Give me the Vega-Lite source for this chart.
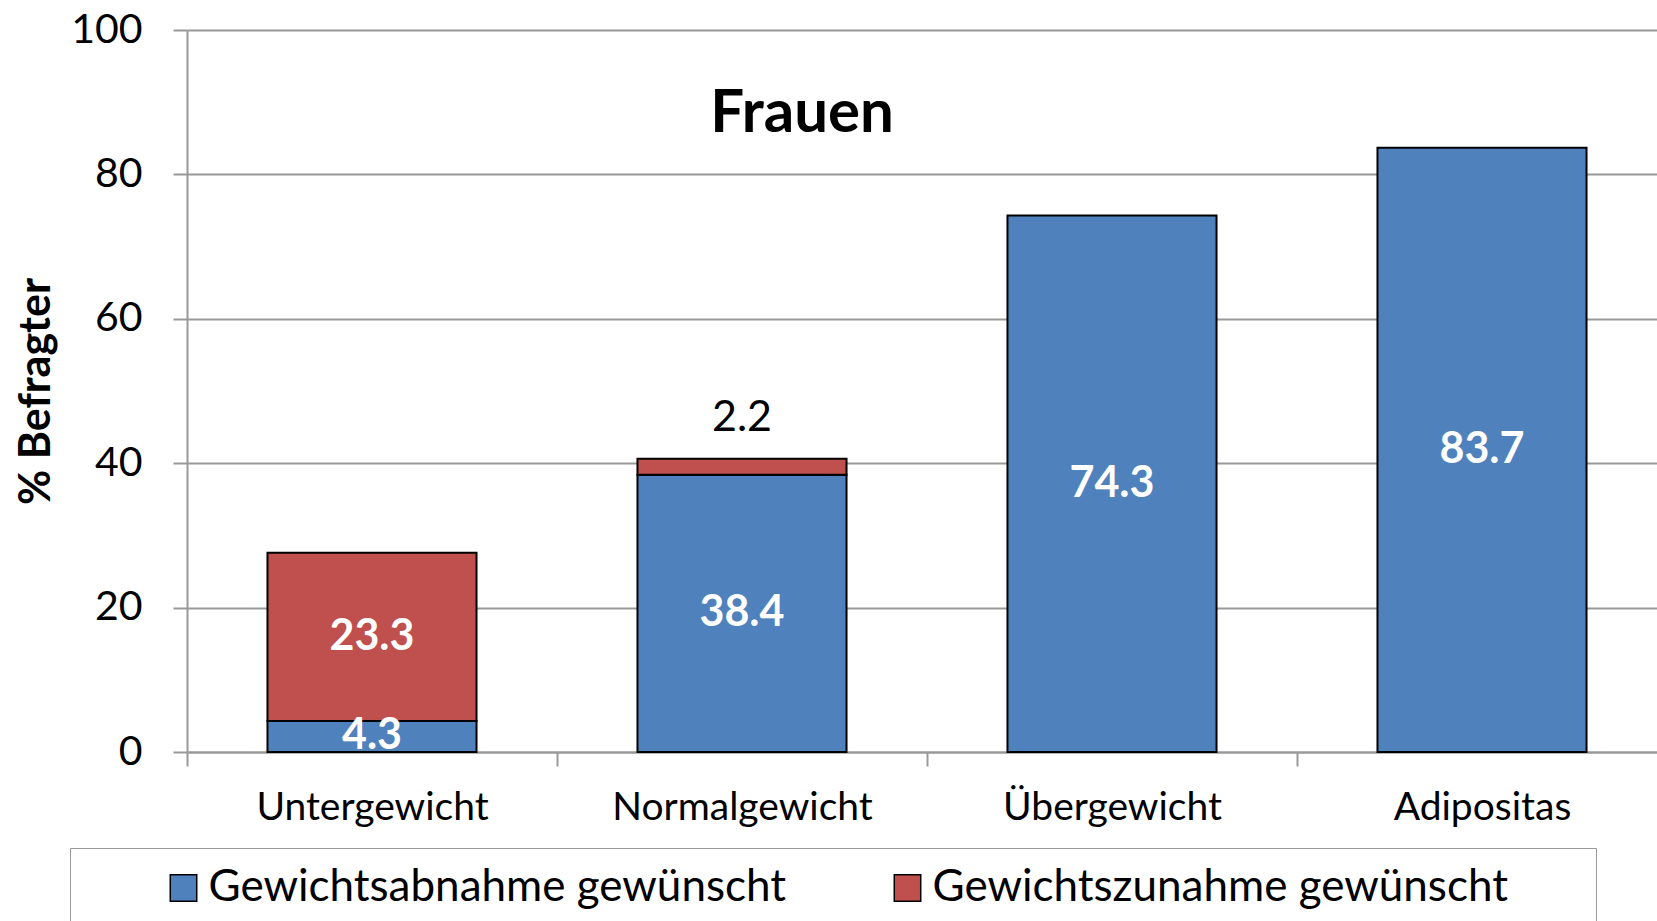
{
  "$schema": "https://vega.github.io/schema/vega-lite/v6.json",
  "width": 1470,
  "height": 722,
  "autosize": {"type": "none"},
  "padding": {"left": 187, "top": 30, "right": 0, "bottom": 169},
  "background": "white",
  "title": {
    "text": "Frauen",
    "font": "Lato",
    "fontSize": 60,
    "fontWeight": "bold",
    "color": "black",
    "anchor": "middle",
    "dx": -120,
    "offset": -136
  },
  "data": {
    "values": [
      {"cat": "Untergewicht", "series": "Gewichtsabnahme gewünscht", "order": 1, "value": 4.3},
      {"cat": "Untergewicht", "series": "Gewichtszunahme gewünscht", "order": 2, "value": 23.3},
      {"cat": "Normalgewicht", "series": "Gewichtsabnahme gewünscht", "order": 1, "value": 38.4},
      {"cat": "Normalgewicht", "series": "Gewichtszunahme gewünscht", "order": 2, "value": 2.2},
      {"cat": "Übergewicht", "series": "Gewichtsabnahme gewünscht", "order": 1, "value": 74.3},
      {"cat": "Adipositas", "series": "Gewichtsabnahme gewünscht", "order": 1, "value": 83.7}
    ]
  },
  "transform": [
    {"stack": "value", "groupby": ["cat"], "sort": [{"field": "order", "order": "ascending"}], "as": ["v0", "v1"]},
    {"calculate": "(datum.v0 + datum.v1) / 2", "as": "mid"}
  ],
  "encoding": {
    "x": {
      "field": "cat",
      "type": "nominal",
      "sort": ["Untergewicht", "Normalgewicht", "Übergewicht", "Adipositas"],
      "scale": {"range": [0, 1480], "paddingInner": 0, "paddingOuter": 0},
      "axis": {
        "title": null,
        "labelAngle": 0,
        "labelFont": "Lato",
        "labelFontSize": 39,
        "labelColor": "black",
        "labelPadding": 22,
        "labelLimit": 0,
        "tickBand": "extent",
        "tickSize": 14,
        "tickColor": "#999999",
        "tickWidth": 2,
        "domainColor": "#999999",
        "domainWidth": 2,
        "grid": false
      }
    }
  },
  "layer": [
    {
      "mark": {"type": "bar", "stroke": "black", "strokeWidth": 2, "width": {"band": 0.565}},
      "encoding": {
        "y": {
          "field": "v0",
          "type": "quantitative",
          "scale": {"domain": [0, 100], "nice": false},
          "axis": {
            "title": "% Befragter",
            "titleFont": "Lato",
            "titleFontSize": 43,
            "titleFontWeight": "bold",
            "titleColor": "black",
            "titlePadding": 12,
            "values": [0, 20, 40, 60, 80, 100],
            "labelFont": "Lato",
            "labelFontSize": 41,
            "labelColor": "black",
            "labelPadding": 31,
            "tickSize": 14,
            "tickColor": "#999999",
            "tickWidth": 2,
            "domainColor": "#999999",
            "domainWidth": 2,
            "grid": true,
            "gridColor": "#999999",
            "gridWidth": 2
          }
        },
        "y2": {"field": "v1"},
        "color": {
          "field": "series",
          "type": "nominal",
          "scale": {
            "domain": ["Gewichtsabnahme gewünscht", "Gewichtszunahme gewünscht"],
            "range": ["#4F81BD", "#C0504D"]
          },
          "legend": {
            "title": " ",
            "titleOrient": "right",
            "titlePadding": 70,
            "orient": "none",
            "direction": "horizontal",
            "legendX": -117,
            "legendY": 818,
            "padding": 18,
            "strokeColor": "#999999",
            "symbolType": "square",
            "symbolSize": 700,
            "symbolStrokeColor": "black",
            "symbolStrokeWidth": 1.5,
            "symbolOffset": 73.5,
            "labelFont": "Lato",
            "labelFontSize": 44,
            "labelColor": "black",
            "labelLimit": 0,
            "labelOffset": 3,
            "columnPadding": 25
          }
        }
      }
    },
    {
      "transform": [{"filter": "datum.value >= 4"}],
      "mark": {"type": "text", "color": "white", "font": "Lato", "fontSize": 43, "fontWeight": "bold", "baseline": "middle"},
      "encoding": {
        "y": {"field": "mid", "type": "quantitative"},
        "text": {"field": "value", "type": "quantitative", "format": ".1f"}
      }
    },
    {
      "transform": [{"filter": "datum.value < 4"}],
      "mark": {"type": "text", "color": "black", "font": "Lato", "fontSize": 43, "baseline": "middle", "dy": -41},
      "encoding": {
        "y": {"field": "v1", "type": "quantitative"},
        "text": {"field": "value", "type": "quantitative", "format": ".1f"}
      }
    }
  ]
}
